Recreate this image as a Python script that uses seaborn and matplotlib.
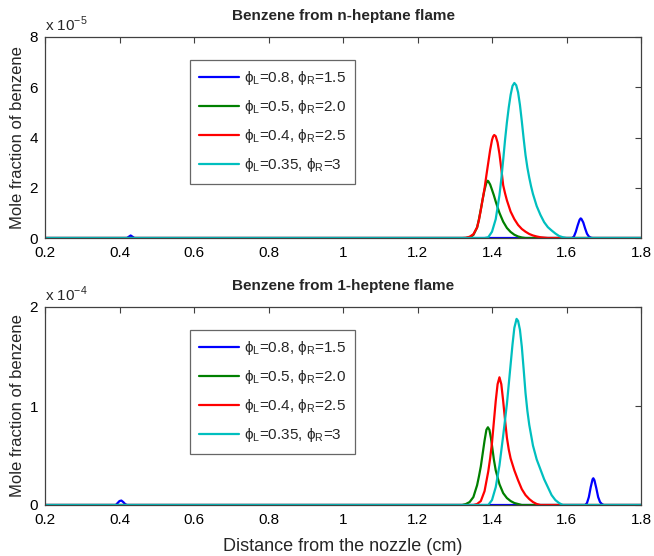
import matplotlib
matplotlib.use("Agg")
import matplotlib.pyplot as plt
import seaborn as sns
import pandas as pd

# ---------------- data ----------------
x_ticks = [0.2, 0.4, 0.6, 0.8, 1.0, 1.2, 1.4, 1.6, 1.8]
x_tick_labels = ["0.2", "0.4", "0.6", "0.8", "1", "1.2", "1.4", "1.6", "1.8"]
top_y_ticks = [0, 2, 4, 6, 8]          # x 1e-5
bot_y_ticks = [0, 1, 2]                # x 1e-4

series_labels = ["ϕ$_\\mathregular{L}$=0.8, ϕ$_\\mathregular{R}$=1.5",
                 "ϕ$_\\mathregular{L}$=0.5, ϕ$_\\mathregular{R}$=2.0",
                 "ϕ$_\\mathregular{L}$=0.4, ϕ$_\\mathregular{R}$=2.5",
                 "ϕ$_\\mathregular{L}$=0.35, ϕ$_\\mathregular{R}$=3"]
series_colors = ["#0000ff", "#008000", "#ff0000", "#00bfbf"]

# n-heptane flame, mole fraction in units of 1e-5
nh_blue_x = [0.2, 0.42, 0.425, 0.43, 0.435, 0.44, 1.615, 1.62, 1.625, 1.63, 1.635, 1.638,
             1.64, 1.645, 1.65, 1.655, 1.66, 1.665, 1.67, 1.8]
nh_blue_y = [0, 0, 0.05, 0.1, 0.05, 0, 0, 0.06, 0.25, 0.5, 0.72, 0.78,
             0.76, 0.62, 0.38, 0.17, 0.06, 0.015, 0, 0]
nh_green_x = [0.2, 1.33, 1.34, 1.35, 1.36, 1.365, 1.37, 1.375, 1.38, 1.385, 1.388, 1.39,
              1.395, 1.40, 1.405, 1.41, 1.415, 1.42, 1.43, 1.44, 1.45, 1.46, 1.47, 1.48,
              1.49, 1.8]
nh_green_y = [0, 0, 0.03, 0.12, 0.42, 0.75, 1.14, 1.55, 1.92, 2.2, 2.28, 2.26,
              2.13, 1.92, 1.7, 1.45, 1.22, 1.0, 0.65, 0.4, 0.24, 0.13, 0.06, 0.02,
              0, 0]
nh_red_x = [0.2, 1.32, 1.33, 1.34, 1.35, 1.36, 1.365, 1.37, 1.375, 1.38, 1.385, 1.39,
            1.395, 1.40, 1.403, 1.406, 1.41, 1.415, 1.42, 1.425, 1.43, 1.435, 1.44,
            1.45, 1.46, 1.47, 1.48, 1.49, 1.50, 1.51, 1.52, 1.53, 1.54, 1.55, 1.8]
nh_red_y = [0, 0, 0.01, 0.05, 0.15, 0.42, 0.72, 1.12, 1.55, 1.98, 2.5, 3.0,
            3.5, 3.9, 4.04, 4.10, 4.05, 3.8, 3.35, 2.75, 2.1, 1.78, 1.5,
            1.05, 0.75, 0.52, 0.36, 0.25, 0.16, 0.1, 0.06, 0.03, 0.015, 0, 0]
nh_cyan_x = [0.2, 1.38, 1.39, 1.40, 1.41, 1.42, 1.425, 1.43, 1.435, 1.44, 1.445, 1.45,
             1.455, 1.46, 1.465, 1.47, 1.475, 1.48, 1.485, 1.49, 1.495, 1.50, 1.505,
             1.51, 1.52, 1.53, 1.54, 1.55, 1.56, 1.57, 1.58, 1.59, 1.60, 1.8]
nh_cyan_y = [0, 0, 0.03, 0.25, 0.75, 1.7, 2.35, 3.1, 3.9, 4.6, 5.2, 5.7,
             6.05, 6.17, 6.08, 5.8, 5.3, 4.65, 3.95, 3.3, 2.8, 2.4, 2.05,
             1.75, 1.27, 0.92, 0.63, 0.43, 0.3, 0.18, 0.08, 0.03, 0, 0]

# 1-heptene flame, mole fraction in units of 1e-4
oh_blue_x = [0.2, 0.39, 0.395, 0.40, 0.405, 0.41, 0.415, 0.42, 1.65, 1.655, 1.66, 1.665,
             1.67, 1.672, 1.675, 1.68, 1.685, 1.69, 1.695, 1.70, 1.8]
oh_blue_y = [0, 0, 0.02, 0.04, 0.045, 0.03, 0.01, 0, 0, 0.02, 0.08, 0.18,
             0.26, 0.27, 0.25, 0.17, 0.08, 0.03, 0.01, 0, 0]
oh_green_x = [0.2, 1.32, 1.33, 1.34, 1.35, 1.36, 1.365, 1.37, 1.375, 1.38, 1.385, 1.389,
              1.393, 1.397, 1.40, 1.405, 1.41, 1.42, 1.43, 1.44, 1.45, 1.46, 1.47, 1.48,
              1.8]
oh_green_y = [0, 0, 0.01, 0.03, 0.08, 0.2, 0.29, 0.39, 0.52, 0.65, 0.76, 0.785,
              0.76, 0.68, 0.6, 0.46, 0.35, 0.21, 0.12, 0.07, 0.04, 0.02, 0.01, 0,
              0]
oh_red_x = [0.2, 1.35, 1.36, 1.37, 1.38, 1.39, 1.395, 1.40, 1.405, 1.41, 1.415, 1.42,
            1.425, 1.43, 1.435, 1.44, 1.445, 1.45, 1.46, 1.47, 1.48, 1.49, 1.50, 1.51,
            1.52, 1.53, 1.8]
oh_red_y = [0, 0, 0.01, 0.04, 0.14, 0.34, 0.47, 0.63, 0.84, 1.05, 1.22, 1.29,
            1.22, 1.05, 0.86, 0.68, 0.56, 0.47, 0.35, 0.25, 0.16, 0.1, 0.06, 0.03,
            0.01, 0, 0]
oh_cyan_x = [0.2, 1.39, 1.40, 1.41, 1.42, 1.43, 1.44, 1.445, 1.45, 1.455, 1.46, 1.466,
             1.47, 1.475, 1.48, 1.485, 1.49, 1.495, 1.50, 1.51, 1.52, 1.53, 1.54, 1.55,
             1.56, 1.57, 1.58, 1.59, 1.8]
oh_cyan_y = [0, 0, 0.05, 0.18, 0.4, 0.7, 1.02, 1.22, 1.42, 1.62, 1.79, 1.88,
             1.86, 1.77, 1.6, 1.37, 1.13, 0.95, 0.81, 0.6, 0.46, 0.36, 0.26, 0.18,
             0.1, 0.05, 0.02, 0, 0]

panels = [
    dict(title="Benzene from n-heptane flame", exp="-5", ylim=(0, 8), yticks=top_y_ticks,
         xs=[nh_blue_x, nh_green_x, nh_red_x, nh_cyan_x],
         ys=[nh_blue_y, nh_green_y, nh_red_y, nh_cyan_y]),
    dict(title="Benzene from 1-heptene flame", exp="-4", ylim=(0, 2), yticks=bot_y_ticks,
         xs=[oh_blue_x, oh_green_x, oh_red_x, oh_cyan_x],
         ys=[oh_blue_y, oh_green_y, oh_red_y, oh_cyan_y]),
]

# ---------------- style ----------------
sns.set_style("white")
plt.rcParams["font.family"] = ["Liberation Sans", "DejaVu Sans"]
plt.rcParams["mathtext.fontset"] = "custom"
plt.rcParams["mathtext.rm"] = "Liberation Sans"
axis_col = "#404040"

fig = plt.figure(figsize=(6.54, 5.56), dpi=100)
rects = [[45 / 654, (556 - 238) / 556, 596 / 654, 201 / 556],
         [45 / 654, (556 - 505) / 556, 596 / 654, 198 / 556]]

for i, (p, r) in enumerate(zip(panels, rects)):
    ax = fig.add_axes(r)
    for xs, ys, lab, col in zip(p["xs"], p["ys"], series_labels, series_colors):
        df = pd.DataFrame({"x": xs, "y": ys})
        sns.lineplot(data=df, x="x", y="y", ax=ax, color=col, lw=1.6, label=lab,
                     estimator=None, sort=False)
    ax.set_xlim(0.2, 1.8)
    ax.set_ylim(*p["ylim"])
    ax.set_xticks(x_ticks)
    ax.set_xticklabels(x_tick_labels)
    ax.set_yticks(p["yticks"])
    ax.set_yticklabels([str(t) for t in p["yticks"]])
    ax.tick_params(direction="in", top=True, right=True, length=4, width=0.8,
                   labelsize=11, colors="black")
    ax.tick_params(axis="x", pad=6)
    ax.tick_params(axis="y", pad=5)
    ax.tick_params(color=axis_col)
    for s in ax.spines.values():
        s.set_color(axis_col)
        s.set_linewidth(0.9)
    ax.set_xlabel("Distance from the nozzle (cm)" if i == 1 else "", fontsize=13, labelpad=8)
    ax.set_ylabel("Mole fraction of benzene", fontsize=12, labelpad=3)
    ax.set_title(p["title"], fontsize=11, fontweight="bold", pad=12)
    ax.text(0.0, 1.015, "x 10$^{\\mathregular{" + p["exp"].replace("-", "\u2212") + "}}$",
            transform=ax.transAxes, ha="left", va="bottom", fontsize=11)
    leg = ax.legend(loc="upper left", bbox_to_anchor=(0.243, 0.886), fontsize=11,
                    frameon=True, fancybox=False, edgecolor=axis_col,
                    handlelength=2.6, handletextpad=0.3, labelspacing=0.72,
                    borderpad=0.62, borderaxespad=0)
    leg.get_frame().set_linewidth(0.9)

fig.savefig("out.png", dpi=100)
